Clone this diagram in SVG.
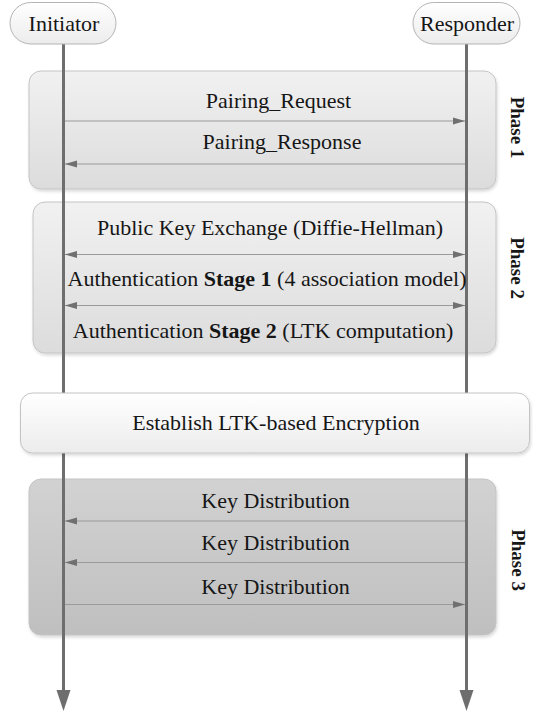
<svg xmlns="http://www.w3.org/2000/svg" width="533" height="713" viewBox="0 0 533 713">
<defs>
<linearGradient id="gPhase" x1="0" y1="0" x2="0" y2="1"><stop offset="0" stop-color="#f1f1f1"/><stop offset="1" stop-color="#dcdcdc"/></linearGradient>
<linearGradient id="gPhase3" x1="0" y1="0" x2="0" y2="1"><stop offset="0" stop-color="#d2d2d2"/><stop offset="1" stop-color="#bfbfbf"/></linearGradient>
<linearGradient id="gLight" x1="0" y1="0" x2="0" y2="1"><stop offset="0" stop-color="#ffffff"/><stop offset="1" stop-color="#ececec"/></linearGradient>
<filter id="sh" x="-5%" y="-10%" width="110%" height="130%"><feDropShadow dx="1" dy="2" stdDeviation="1.5" flood-color="#000" flood-opacity="0.15"/></filter>
<marker id="ah" markerUnits="userSpaceOnUse" markerWidth="12" markerHeight="8" refX="12" refY="4" orient="auto-start-reverse"><path d="M0,0.5 L12,4 L0,7.5 z" fill="#707070"/></marker>
</defs>
<style>
text{font-family:"Liberation Serif","Times New Roman",serif;font-size:22px;fill:#161616}
.b{font-weight:bold}
.ph{font-weight:bold;font-size:19px;text-anchor:middle;dominant-baseline:central}
.c{text-anchor:middle}
.box{stroke:#c4c4c4;stroke-width:1}
.life{stroke:#6e6e6e;stroke-width:3;fill:none}
.msg{stroke:#9a9a9a;stroke-width:1.2;fill:none}
</style>
<g id="phase1"><rect class="box" x="29" y="71" width="467" height="118" rx="12" fill="url(#gPhase)" filter="url(#sh)"/><text class="ph" x="517" y="127.5" transform="rotate(90 517 127.5)">Phase 1</text></g>
<g id="phase2"><rect class="box" x="33" y="202" width="463" height="151" rx="12" fill="url(#gPhase)" filter="url(#sh)"/><text class="ph" x="517" y="268" transform="rotate(90 517 268)">Phase 2</text></g>
<g id="phase3"><rect class="box" x="29" y="479" width="467" height="156" rx="12" fill="url(#gPhase3)" filter="url(#sh)"/><text class="ph" x="518" y="560" transform="rotate(90 518 560)">Phase 3</text></g>
<g id="lifelines">
<line class="life" x1="63.5" y1="44" x2="63.5" y2="692"/>
<polygon points="56.5,690 70.5,690 63.5,711" fill="#6e6e6e"/>
<line class="life" x1="466.5" y1="44" x2="466.5" y2="692"/>
<polygon points="459.5,690 473.5,690 466.5,711" fill="#6e6e6e"/>
</g>
<g id="establish"><rect x="20.5" y="393" width="509" height="60" rx="12" fill="url(#gLight)" stroke="#c4c4c4" filter="url(#sh)"/><text class="c" x="276" y="430">Establish LTK-based Encryption</text></g>
<g id="connectors">
<line class="msg" x1="65" y1="121" x2="465" y2="121" marker-end="url(#ah)"/>
<line class="msg" x1="465" y1="164" x2="65" y2="164" marker-end="url(#ah)"/>
<line class="msg" x1="65" y1="254.5" x2="465" y2="254.5" marker-start="url(#ah)" marker-end="url(#ah)"/>
<line class="msg" x1="65" y1="305.5" x2="465" y2="305.5" marker-start="url(#ah)" marker-end="url(#ah)"/>
<line class="msg" x1="465" y1="521" x2="65" y2="521" marker-end="url(#ah)"/>
<line class="msg" x1="465" y1="562.5" x2="65" y2="562.5" marker-end="url(#ah)"/>
<line class="msg" x1="65" y1="604.5" x2="465" y2="604.5" marker-end="url(#ah)"/>
</g>
<g id="labels">
<text class="c" x="278.5" y="108">Pairing_Request</text>
<text class="c" x="282" y="149">Pairing_Response</text>
<text class="c" x="270" y="235">Public Key Exchange (Diffie-Hellman)</text>
<text class="c" x="267" y="286">Authentication <tspan class="b">Stage 1</tspan> (4 association model)</text>
<text class="c" x="263" y="338">Authentication <tspan class="b">Stage 2</tspan> (LTK computation)</text>
<text class="c" x="275.5" y="508">Key Distribution</text>
<text class="c" x="275.5" y="550">Key Distribution</text>
<text class="c" x="275.5" y="594">Key Distribution</text>
</g>
<g id="initiator"><rect x="10" y="2.5" width="106" height="41.5" rx="20.75" fill="url(#gLight)" stroke="#b4b4b4"/><text class="c" x="64" y="31">Initiator</text></g>
<g id="responder"><rect x="413" y="2.5" width="107" height="41.5" rx="20.75" fill="url(#gLight)" stroke="#b4b4b4"/><text class="c" x="467" y="31">Responder</text></g>
</svg>
